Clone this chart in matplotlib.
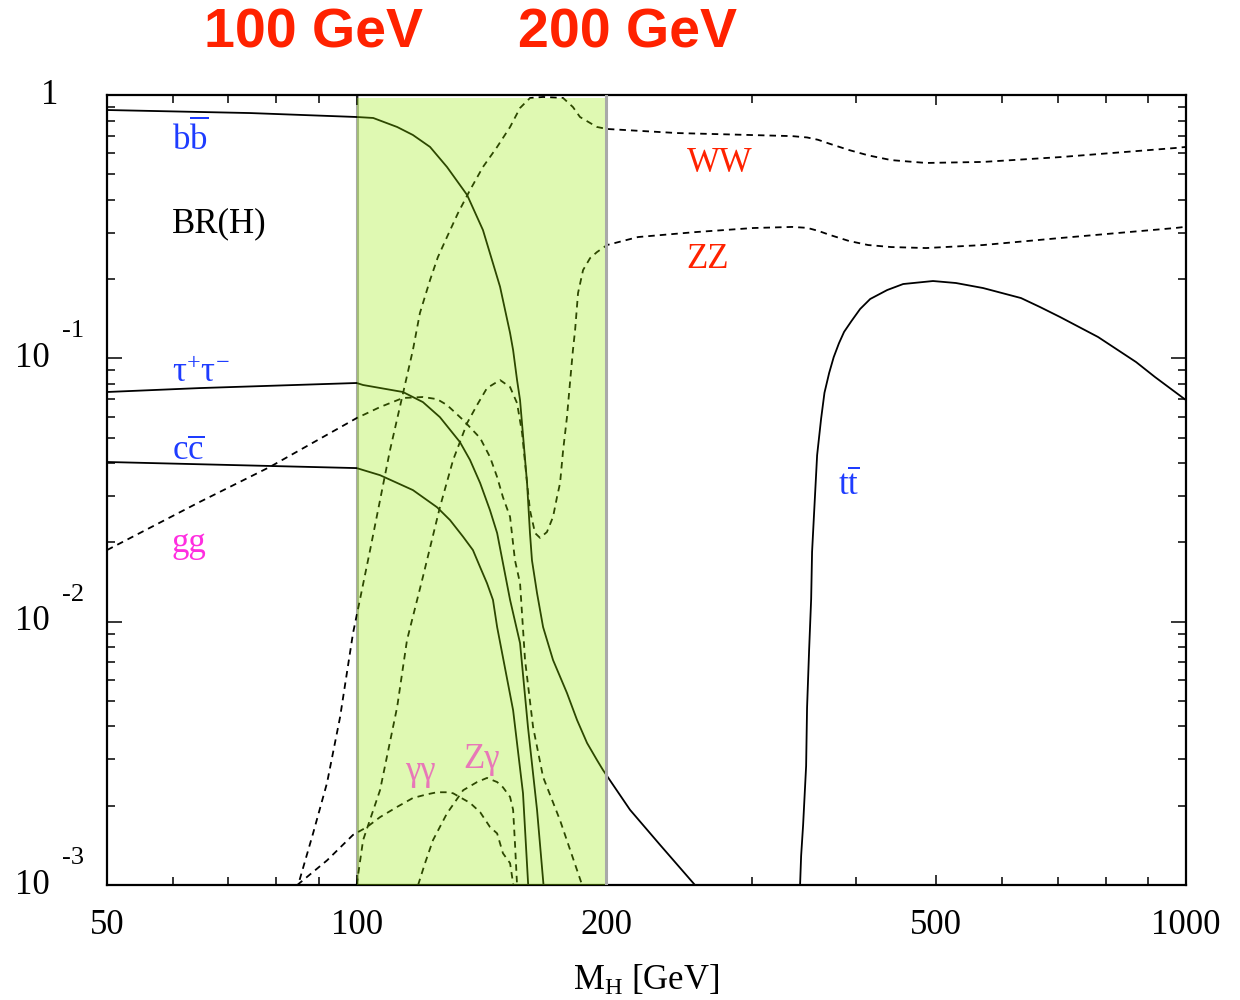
import matplotlib
matplotlib.use("Agg")
import matplotlib.pyplot as plt
import matplotlib.transforms as mtransforms
from matplotlib.ticker import FixedLocator, NullFormatter, LogLocator

plt.rcParams['font.family'] = ['Liberation Serif', 'DejaVu Serif']
plt.rcParams['mathtext.fontset'] = 'custom'
plt.rcParams['mathtext.rm'] = 'Liberation Serif'
plt.rcParams['mathtext.it'] = 'Liberation Serif:italic'

# ---------------- data (Higgs branching ratios vs M_H) ----------------
bb_m  = [50, 74.4, 100, 104.7, 111.9, 116.9, 122.6, 128.5, 135.9, 142.0, 148.9, 153.1, 154.4, 156.1,
         157.4, 160.5, 161.8, 162.7, 165.0, 167.8, 172.5, 179.3, 184.4, 189.6, 194.9, 198.2, 213.6,
         232.2, 255.8]
bb_br = [0.877, 0.854, 0.825, 0.818, 0.756, 0.705, 0.635, 0.533, 0.417, 0.307, 0.187, 0.1248, 0.1075,
         0.0827, 0.0694, 0.0336, 0.0217, 0.0171, 0.01284, 0.00954, 0.00715, 0.00536, 0.00423, 0.00346,
         0.00298, 0.00273, 0.00193, 0.00142, 0.001]

tau_m  = [50, 64.7, 100, 101.8, 113.7, 120.2, 126.0, 133.2, 137.0, 140.9, 144.8, 147.7, 150.1, 153.1,
          157.4, 160.9, 165.0, 168.0]
tau_br = [0.0745, 0.0771, 0.0806, 0.0792, 0.0745, 0.0682, 0.0598, 0.0481, 0.0411, 0.0336, 0.0265,
          0.0217, 0.0167, 0.0121, 0.00829, 0.00398, 0.00193, 0.001]

cc_m  = [50, 100, 106.7, 116.9, 125.0, 129.6, 134.4, 138.1, 140.9, 143.6, 146.0, 147.7, 154.4, 158.7, 161.0]
cc_br = [0.0404, 0.0383, 0.0360, 0.0316, 0.0272, 0.0243, 0.0210, 0.0187, 0.0161, 0.0140, 0.0121,
         0.00954, 0.00461, 0.00223, 0.001]

gg_m  = [50, 64.7, 78.6, 100, 106.7, 113.7, 120.2, 125.0, 128.5, 134.4, 140.9, 144.8, 147.7, 150.1,
         153.1, 155.2, 157.4, 159.6, 163.2, 167.8, 175.9, 187.0]
gg_br = [0.0187, 0.0285, 0.0387, 0.0593, 0.0653, 0.0707, 0.0713, 0.0700, 0.0665, 0.0583, 0.0498,
         0.0422, 0.0354, 0.0297, 0.0250, 0.0171, 0.0140, 0.00715, 0.00398, 0.00257, 0.00176, 0.001]

ww_m  = [50, 85.0, 88.6, 92.1, 95.5, 99.0, 100.9, 103.8, 109.7, 116.9, 119.2, 122.6, 125.3, 128.5,
         132.5, 137.0, 142.0, 147.7, 153.1, 157.4, 161.8, 167.8, 177.4, 182.3, 185.9, 191.2, 194.9,
         200.4, 243.4, 335.0, 349.2, 360.0, 372.3, 392.4, 413.8, 441.0, 485.9, 569.3, 705.0, 970.2, 1000]
ww_br = [0.001, 0.001, 0.00157, 0.00244, 0.00434, 0.00905, 0.0121, 0.0187, 0.0448, 0.1075, 0.1486,
         0.1983, 0.2424, 0.2888, 0.3563, 0.4356, 0.533, 0.635, 0.756, 0.893, 0.974, 0.983, 0.974, 0.900,
         0.825, 0.783, 0.756, 0.743, 0.717, 0.698, 0.690, 0.676, 0.652, 0.618, 0.590, 0.566, 0.552,
         0.557, 0.581, 0.629, 0.635]

zz_m  = [100, 101.8, 106.7, 111.9, 115.0, 120.2, 126.0, 130.7, 135.9, 139.7, 143.6, 148.9, 153.1,
         156.1, 158.3, 160.5, 161.8, 164.1, 166.4, 169.6, 172.5, 174.4, 175.9, 177.4, 179.3, 180.8,
         182.3, 183.4, 184.9, 187.5, 191.2, 194.9, 200.4, 218.4, 256.5, 300.6, 335.0, 349.2, 360.0,
         372.3, 392.4, 413.8, 441.0, 485.9, 569.3, 705.0, 970.2, 1000]
zz_br = [0.001, 0.00148, 0.00229, 0.00474, 0.00851, 0.0148, 0.0272, 0.0411, 0.0568, 0.0665, 0.0771,
         0.0827, 0.0778, 0.0676, 0.0520, 0.0336, 0.0265, 0.0217, 0.0208, 0.0219, 0.0250, 0.0297, 0.0336,
         0.0448, 0.0598, 0.0806, 0.1075, 0.1281, 0.1770, 0.2164, 0.2403, 0.2533, 0.2693, 0.2888, 0.3017,
         0.3125, 0.3155, 0.3130, 0.305, 0.2939, 0.279, 0.2693, 0.2646, 0.2623, 0.2693, 0.2863, 0.3125,
         0.316]

tt_m  = [342.5, 343.5, 345.4, 348.3, 349.2, 351.2, 353.2, 354.1, 356.1, 359.1, 363.1, 366.5, 371.3,
         376.0, 381.5, 387.0, 395.0, 404.6, 416.1, 436.2, 456.0, 495.4, 528.0, 569.3, 632.5, 666.8,
         705.0, 783.4, 870.6, 917.6, 1000]
tt_br = [0.001, 0.00129, 0.00169, 0.00283, 0.00470, 0.0078, 0.01218, 0.0184, 0.0259, 0.0429, 0.0590,
         0.0740, 0.0880, 0.1010, 0.1140, 0.1260, 0.1385, 0.1539, 0.1680, 0.1817, 0.1915, 0.1966, 0.1932,
         0.1849, 0.1694, 0.1566, 0.1435, 0.1205, 0.0968, 0.0849, 0.0694]

gaga_m  = [84.8, 92.1, 99.0, 102.9, 106.7, 111.9, 116.9, 121.6, 125.0, 128.5, 130.7, 137.0, 140.9,
           144.8, 147.7, 150.1, 153.1, 154.5]
gaga_br = [0.001, 0.00124, 0.00155, 0.00166, 0.00181, 0.00198, 0.00214, 0.00221, 0.00225, 0.00225,
           0.00223, 0.00205, 0.00189, 0.00166, 0.00157, 0.00132, 0.00121, 0.001]

zga_m  = [118.6, 120.9, 123.6, 128.5, 134.4, 139.7, 143.6, 147.7, 150.1, 153.1, 154.4, 155.2, 156.1]
zga_br = [0.001, 0.00121, 0.00148, 0.00187, 0.00229, 0.00246, 0.00255, 0.00246, 0.00235, 0.00216,
          0.00193, 0.00144, 0.001]

x_major = [50, 100, 200, 500, 1000]
x_minor = [60, 70, 80, 90, 300, 400, 600, 700, 800, 900]
y_exponents = [0, -1, -2, -3]
band = (100, 200)
titles = ["100 GeV", "200 GeV"]

# ---------------- figure ----------------
fig = plt.figure(figsize=(12.4, 10), dpi=100)
ax = fig.add_axes([107/1240, 1-885/1000, 1079/1240, 790/1000])
ax.set_xscale('log')
ax.set_yscale('log')
ax.set_xlim(50, 1000)
ax.set_ylim(1e-3, 1)

lw = 1.3
dash = (0, (3.6, 2.8))
for m, br in [(bb_m, bb_br), (tau_m, tau_br), (cc_m, cc_br), (tt_m, tt_br)]:
    ax.plot(m, br, color='black', lw=lw, zorder=2, solid_joinstyle='round')
for m, br in [(gg_m, gg_br), (ww_m, ww_br), (zz_m, zz_br), (gaga_m, gaga_br), (zga_m, zga_br)]:
    ax.plot(m, br, color='black', lw=lw, ls=dash, zorder=2, dash_joinstyle='round')

# band
ax.axvline(band[0], color='#a9a9a9', lw=2.2, zorder=1.5)
ax.axvspan(band[0], band[1], ymin=0, ymax=0.996, facecolor=(150/255, 238/255, 0), alpha=0.3,
           edgecolor='none', zorder=3)
ax.axvline(band[1], color='#a9a9a9', lw=2.2, zorder=4)

# spines & ticks
for s in ax.spines.values():
    s.set_linewidth(1.6)
ax.xaxis.set_major_locator(FixedLocator(x_major))
ax.xaxis.set_minor_locator(FixedLocator(x_minor))
ax.xaxis.set_minor_formatter(NullFormatter())
ax.set_xticklabels([str(v) for v in x_major])
ax.yaxis.set_major_locator(FixedLocator([10.0**e for e in y_exponents]))
ax.yaxis.set_minor_locator(LogLocator(base=10, subs=range(2, 10)))
ax.yaxis.set_minor_formatter(NullFormatter())
ax.set_yticklabels([])
ax.tick_params(axis='x', which='major', direction='in', top=True, bottom=True, length=7, width=1.1,
               labelsize=25, pad=17)
ax.tick_params(axis='x', which='minor', direction='in', top=True, bottom=True, length=5.5, width=1.1)
ax.tick_params(axis='y', which='major', direction='in', left=True, right=True, length=11, width=1.1)
ax.tick_params(axis='y', which='minor', direction='in', left=True, right=True, length=5.5, width=1.1)

# y tick labels (10 with exponent)
ytrans = mtransforms.blended_transform_factory(ax.transAxes, ax.transData)
suptrans = mtransforms.offset_copy(ytrans, fig=fig, y=27, units='dots')
for e in y_exponents:
    if e == 0:
        ax.text(-0.0454, 1.0, '1', transform=ytrans, ha='right', va='center', fontsize=25)
    else:
        ax.text(-0.0528, 10.0**e, '10', transform=ytrans, ha='right', va='center', fontsize=25)
        ax.text(-0.0417, 10.0**e, str(e), transform=suptrans, ha='left', va='center', fontsize=19)

# x label
ax.set_xlabel(r'$\mathrm{M_H}$ [GeV]', fontsize=25, va='baseline')
ax.xaxis.set_label_coords(0.5, -0.133)

# curve labels
blue = '#1e3cff'
red = '#ff2200'
lab = dict(transform=ax.transAxes, ha='left', va='baseline', fontsize=25)
ax.text(0.0602, 0.930, r'$\mathrm{b\overline{b}}$', color=blue, **lab)
ax.text(0.0602, 0.8266, 'BR(H)', color='black', **lab)
ax.text(0.0602, 0.6367, r'$\mathrm{τ^{+}τ^{-}}$', color=blue, **lab)
ax.text(0.0602, 0.538, r'$\mathrm{c\overline{c}}$', color=blue, **lab)
ax.text(0.0602, 0.4215, 'gg', color='#ff2ee0', **lab)
ax.text(0.5375, 0.9025, 'WW', color=red, **lab)
ax.text(0.5366, 0.781, 'ZZ', color=red, **lab)
ax.text(0.6775, 0.4937, r'$\mathrm{t\overline{t}}$', color=blue, **lab)
ax.text(0.2762, 0.1329, 'γγ', color='#e878b8', **lab)
ax.text(0.330, 0.148, 'Zγ', color='#e878b8', **lab)

# titles
fig.text(314/1240, 0.967, titles[0], color=red, fontsize=40, fontweight='bold',
         family='Liberation Sans', ha='center', va='center')
fig.text(627/1240, 0.967, titles[1], color=red, fontsize=40, fontweight='bold',
         family='Liberation Sans', ha='center', va='center')

fig.savefig('out.png', dpi=100)
